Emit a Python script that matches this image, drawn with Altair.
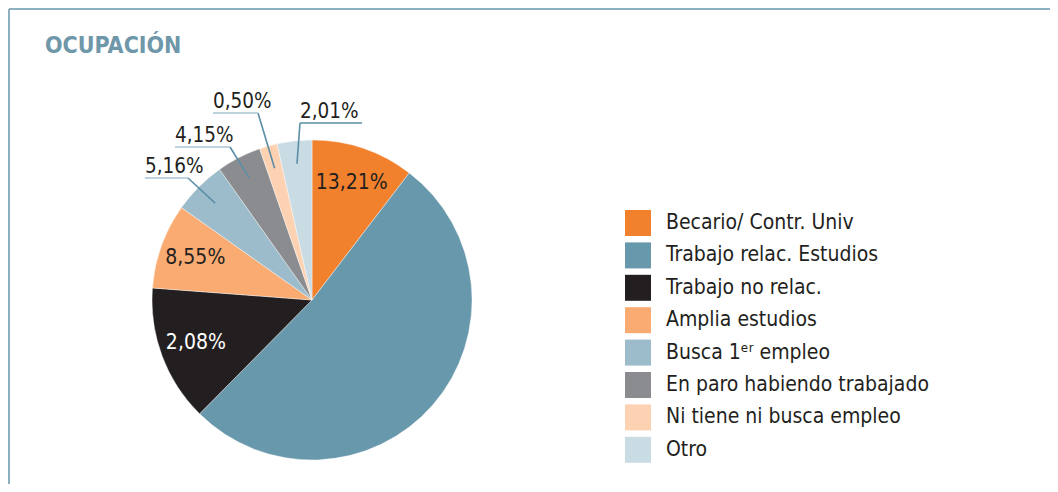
import math
import altair as alt
import pandas as pd

# ---- data ----
categories = ["Becario/ Contr. Univ", "Trabajo relac. Estudios", "Trabajo no relac.",
              "Amplia estudios", "Busca 1ᵉʳ empleo", "En paro habiendo trabajado",
              "Ni tiene ni busca empleo", "Otro"]
values = [10.4, 52.0, 13.8, 8.6, 5.4, 4.5, 1.8, 3.5]
labels = ["13,21%", "", "2,08%", "8,55%", "5,16%", "4,15%", "0,50%", "2,01%"]
colors = ["#f2812d", "#6898ac", "#231f20", "#f9ab72", "#9dbccb", "#8b8c8f", "#fdd2b3", "#c9dbe3"]

# ---- layout ----
CX, CY, R = 304, 292, 160
FONT = "Liberation Sans Narrow, DejaVu Sans Condensed, sans-serif"
LEADER = "#5b8ea6"
UNDER = "#a7c5d3"
inner_ids = [0, 2, 3]

df = pd.DataFrame({"cat": categories, "val": values, "idx": list(range(len(values)))})
df["inner"] = [l if i in inner_ids else "" for i, l in enumerate(labels)]

base = alt.Chart(df)
arcs = base.mark_arc(outerRadius=R, stroke="white", strokeWidth=0.4).encode(
    theta=alt.Theta("val:Q", stack=True),
    order=alt.Order("idx:Q"),
    color=alt.Color("cat:N", sort=categories,
                    scale=alt.Scale(domain=categories, range=colors),
                    legend=alt.Legend(title=None, orient="none", legendX=617, legendY=202,
                                      symbolType="square", symbolSize=676,
                                      symbolStrokeWidth=0, symbolOpacity=1,
                                      labelFont=FONT, labelFontSize=21,
                                      labelColor="#231f20", labelOffset=15,
                                      rowPadding=6.4, labelLimit=400)),
    x=alt.value(CX), y=alt.value(CY),
)

inner = base.mark_text(radius=124, font=FONT, fontSize=21).encode(
    theta=alt.Theta("val:Q", stack=True),
    order=alt.Order("idx:Q"),
    text="inner:N",
    color=alt.condition(alt.datum.idx == 2, alt.value("white"), alt.value("#231f20")),
    x=alt.value(CX), y=alt.value(CY),
)

# callouts: elbow offset from centre, underline end offset (x), for slices 4..7
callout = {4: (-124, -122, -167), 5: (-82, -153, -137), 6: (-54, -187, -99), 7: (-12, -177, 50)}
total = sum(values)
cum = 0.0
segs, texts = [], []
for i, v in enumerate(values):
    mid = (cum + v / 2) / total * 2 * math.pi
    cum += v
    if i in callout:
        ex, ey, ux = callout[i]
        px = CX + 137 * math.sin(mid)
        py = CY - 137 * math.cos(mid)
        segs.append({"x": px, "y": py, "x2": CX + ex, "y2": CY + ey, "c": LEADER})
        segs.append({"x": CX + ex, "y": CY + ey, "x2": CX + ux, "y2": CY + ey,
                     "c": LEADER if i == 7 else UNDER})
        texts.append({"x": CX + min(ex, ux), "y": CY + ey - 5, "t": labels[i]})

seg_df = pd.DataFrame(segs)
txt_df = pd.DataFrame(texts)

lines = alt.Chart(seg_df).mark_rule(strokeWidth=1.6).encode(
    x=alt.X("x:Q", scale=None), y=alt.Y("y:Q", scale=None),
    x2="x2:Q", y2="y2:Q", color=alt.Color("c:N", scale=None),
)
outer = alt.Chart(txt_df).mark_text(font=FONT, fontSize=20.5, align="left",
                                    baseline="alphabetic", color="#231f20").encode(
    x=alt.X("x:Q", scale=None), y=alt.Y("y:Q", scale=None), text="t:N",
)

title = alt.Chart(pd.DataFrame({"t": ["OCUPACIÓN"]})).mark_text(
    font=FONT, fontSize=23, fontWeight="bold", color="#6f97aa", align="left",
    baseline="alphabetic").encode(x=alt.value(37), y=alt.value(45), text="t:N")

frame_top = alt.Chart(pd.DataFrame({"a": [0]})).mark_rule(color="#8db0c1", strokeWidth=2).encode(
    x=alt.value(1), x2=alt.value(1042), y=alt.value(1))
frame_left = alt.Chart(pd.DataFrame({"a": [0]})).mark_rule(color="#8db0c1", strokeWidth=2).encode(
    x=alt.value(1), y=alt.value(1), y2=alt.value(476))

chart = alt.layer(frame_top, frame_left, title, arcs, inner, lines, outer).properties(
    width=1042, height=476, autosize="none", padding=0
).configure_view(stroke=None)

chart.save("out.html", embed_options={"renderer": "svg", "actions": False})
